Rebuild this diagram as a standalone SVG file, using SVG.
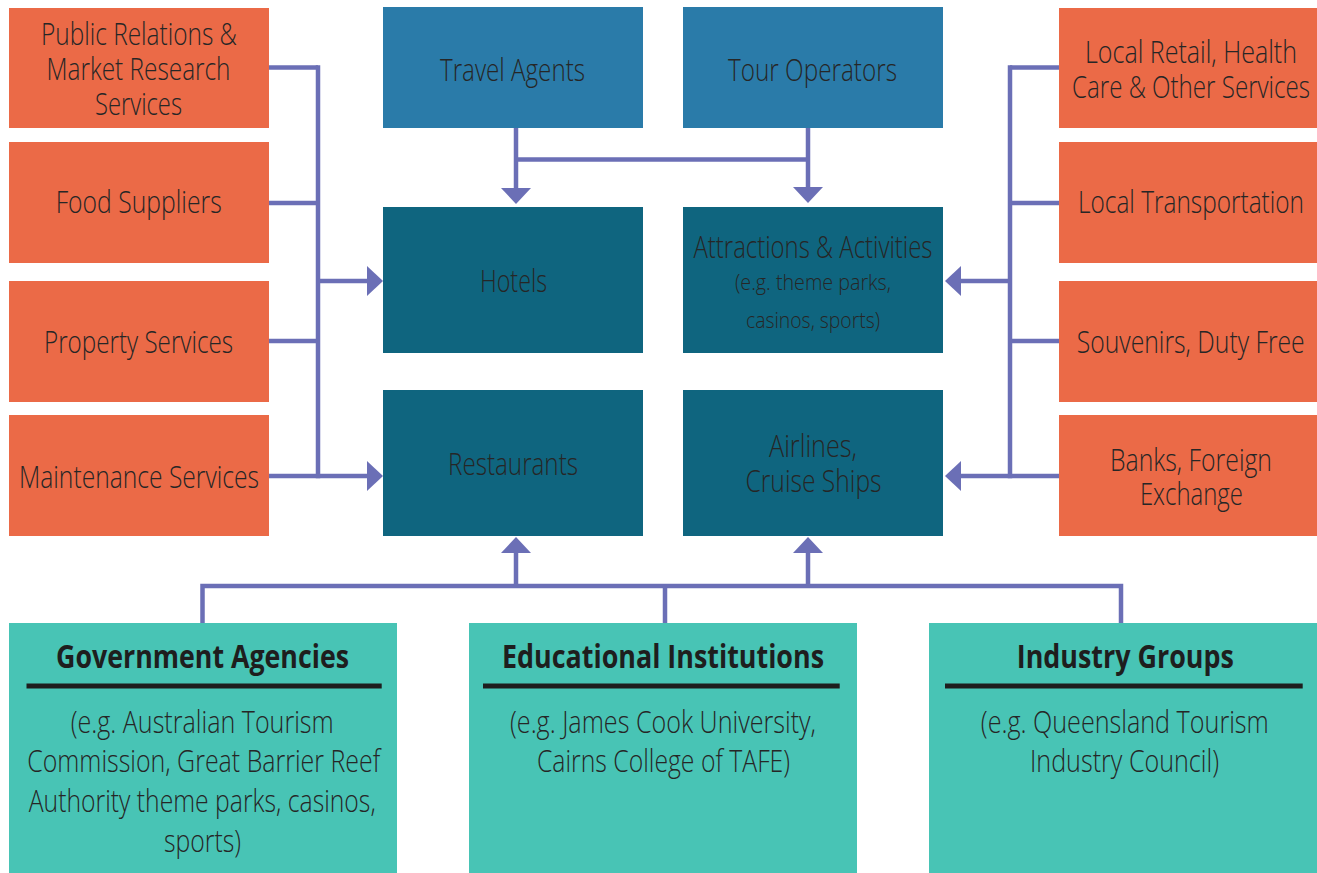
<svg xmlns="http://www.w3.org/2000/svg" width="1317" height="873" viewBox="0 0 1317 873">
<style>
  .orange{fill:#eb6a47}
  .blue{fill:#2a7ba9}
  .dark{fill:#0f657f}
  .teal{fill:#48c4b5}
  text{font-family:"Open Sans","Liberation Sans",sans-serif;font-weight:300;fill:#262626;text-anchor:middle}
  .t{font-size:32px}
  .s{font-size:22px}
  .b{font-size:32px;font-weight:700;fill:#1e1e1e}
  .conn{fill:none;stroke:#6b6fb6;stroke-width:4.5}
  .ul{stroke:#1e1e1e;stroke-width:5}
</style>
<defs>
  <marker id="arr" viewBox="0 0 16 30" refX="0" refY="15" markerWidth="16" markerHeight="30" markerUnits="userSpaceOnUse" orient="auto">
    <path d="M0,0 L16,15 L0,30 z" fill="#6b6fb6"/>
  </marker>
</defs>
<rect width="1317" height="873" fill="#ffffff"/>

<g id="connectors">
  <path class="conn" d="M269,67.5 H318"/>
  <path class="conn" d="M269,203 H318"/>
  <path class="conn" d="M269,341 H318"/>
  <path class="conn" d="M269,476 H318"/>
  <path class="conn" d="M318,65.25 V478.25"/>
  <path class="conn" d="M318,281 H367" marker-end="url(#arr)"/>
  <path class="conn" d="M318,476 H367" marker-end="url(#arr)"/>

  <path class="conn" d="M516,128 V188" marker-end="url(#arr)"/>
  <path class="conn" d="M808,128 V187" marker-end="url(#arr)"/>
  <path class="conn" d="M516,159.5 H808"/>

  <path class="conn" d="M1059,67.5 H1010"/>
  <path class="conn" d="M1059,203 H1010"/>
  <path class="conn" d="M1059,341 H1010"/>
  <path class="conn" d="M1059,476 H1010"/>
  <path class="conn" d="M1010,65.25 V478.25"/>
  <path class="conn" d="M1010,281 H961" marker-end="url(#arr)"/>
  <path class="conn" d="M1010,476 H961" marker-end="url(#arr)"/>

  <path class="conn" d="M202.5,623 V586 H1121 V623"/>
  <path class="conn" d="M665,586 V623"/>
  <path class="conn" d="M516,586 V553" marker-end="url(#arr)"/>
  <path class="conn" d="M808,586 V553" marker-end="url(#arr)"/>
</g>

<g id="public-relations">
  <rect class="orange" x="9" y="8" width="260" height="120"/>
  <text class="t" x="139" y="45" textLength="196" lengthAdjust="spacingAndGlyphs">Public Relations &amp;</text>
  <text class="t" x="138.5" y="80" textLength="184" lengthAdjust="spacingAndGlyphs">Market Research</text>
  <text class="t" x="138.5" y="115" textLength="87" lengthAdjust="spacingAndGlyphs">Services</text>
</g>
<g id="food-suppliers">
  <rect class="orange" x="9" y="142" width="260" height="121"/>
  <text class="t" x="138.7" y="213" textLength="166" lengthAdjust="spacingAndGlyphs">Food Suppliers</text>
</g>
<g id="property-services">
  <rect class="orange" x="9" y="281" width="260" height="121"/>
  <text class="t" x="138.5" y="353" textLength="189" lengthAdjust="spacingAndGlyphs">Property Services</text>
</g>
<g id="maintenance-services">
  <rect class="orange" x="9" y="415" width="260" height="121"/>
  <text class="t" x="139" y="488" textLength="240" lengthAdjust="spacingAndGlyphs">Maintenance Services</text>
</g>

<g id="travel-agents">
  <rect class="blue" x="383" y="7" width="260" height="121"/>
  <text class="t" x="512.5" y="81" textLength="145" lengthAdjust="spacingAndGlyphs">Travel Agents</text>
</g>
<g id="tour-operators">
  <rect class="blue" x="683" y="7" width="260" height="121"/>
  <text class="t" x="812.5" y="81" textLength="169" lengthAdjust="spacingAndGlyphs">Tour Operators</text>
</g>
<g id="hotels">
  <rect class="dark" x="383" y="207" width="260" height="146"/>
  <text class="t" x="513.5" y="292" textLength="67" lengthAdjust="spacingAndGlyphs">Hotels</text>
</g>
<g id="attractions">
  <rect class="dark" x="683" y="207" width="260" height="146"/>
  <text class="t" x="813" y="258" textLength="239" lengthAdjust="spacingAndGlyphs">Attractions &amp; Activities</text>
  <text class="s" x="813" y="290" textLength="156" lengthAdjust="spacingAndGlyphs">(e.g. theme parks,</text>
  <text class="s" x="813" y="328" textLength="134" lengthAdjust="spacingAndGlyphs">casinos, sports)</text>
</g>
<g id="restaurants">
  <rect class="dark" x="383" y="390" width="260" height="146"/>
  <text class="t" x="513" y="475" textLength="130" lengthAdjust="spacingAndGlyphs">Restaurants</text>
</g>
<g id="airlines">
  <rect class="dark" x="683" y="390" width="260" height="146"/>
  <text class="t" x="813" y="457" textLength="88" lengthAdjust="spacingAndGlyphs">Airlines,</text>
  <text class="t" x="813.5" y="492" textLength="136" lengthAdjust="spacingAndGlyphs">Cruise Ships</text>
</g>

<g id="local-retail">
  <rect class="orange" x="1059" y="8" width="258" height="120"/>
  <text class="t" x="1191" y="63" textLength="212" lengthAdjust="spacingAndGlyphs">Local Retail, Health</text>
  <text class="t" x="1191" y="98" textLength="238" lengthAdjust="spacingAndGlyphs">Care &amp; Other Services</text>
</g>
<g id="local-transportation">
  <rect class="orange" x="1059" y="142" width="258" height="121"/>
  <text class="t" x="1191" y="213" textLength="226" lengthAdjust="spacingAndGlyphs">Local Transportation</text>
</g>
<g id="souvenirs">
  <rect class="orange" x="1059" y="281" width="258" height="121"/>
  <text class="t" x="1190.7" y="353" textLength="228" lengthAdjust="spacingAndGlyphs">Souvenirs, Duty Free</text>
</g>
<g id="banks">
  <rect class="orange" x="1059" y="415" width="258" height="121"/>
  <text class="t" x="1191" y="471" textLength="162" lengthAdjust="spacingAndGlyphs">Banks, Foreign</text>
  <text class="t" x="1191.4" y="505" textLength="103" lengthAdjust="spacingAndGlyphs">Exchange</text>
</g>

<g id="government-agencies">
  <rect class="teal" x="9" y="623" width="388" height="250"/>
  <text class="b" x="202.5" y="668" textLength="293" lengthAdjust="spacingAndGlyphs">Government Agencies</text>
  <line class="ul" x1="26.5" y1="686" x2="381.7" y2="686"/>
  <text class="t" x="202.2" y="733" textLength="263" lengthAdjust="spacingAndGlyphs">(e.g. Australian Tourism</text>
  <text class="t" x="203.7" y="772" textLength="353" lengthAdjust="spacingAndGlyphs">Commission, Great Barrier Reef</text>
  <text class="t" x="202.2" y="812" textLength="347" lengthAdjust="spacingAndGlyphs">Authority theme parks, casinos,</text>
  <text class="t" x="202.5" y="852" textLength="77" lengthAdjust="spacingAndGlyphs">sports)</text>
</g>
<g id="educational-institutions">
  <rect class="teal" x="469" y="623" width="388" height="250"/>
  <text class="b" x="663" y="668" textLength="322" lengthAdjust="spacingAndGlyphs">Educational Institutions</text>
  <line class="ul" x1="483" y1="686" x2="839.7" y2="686"/>
  <text class="t" x="663" y="733" textLength="306" lengthAdjust="spacingAndGlyphs">(e.g. James Cook University,</text>
  <text class="t" x="663.5" y="772" textLength="253" lengthAdjust="spacingAndGlyphs">Cairns College of TAFE)</text>
</g>
<g id="industry-groups">
  <rect class="teal" x="929" y="623" width="388" height="250"/>
  <text class="b" x="1125.3" y="668" textLength="217" lengthAdjust="spacingAndGlyphs">Industry Groups</text>
  <line class="ul" x1="945" y1="686" x2="1302.7" y2="686"/>
  <text class="t" x="1124.8" y="733" textLength="288" lengthAdjust="spacingAndGlyphs">(e.g. Queensland Tourism</text>
  <text class="t" x="1124.5" y="772" textLength="189" lengthAdjust="spacingAndGlyphs">Industry Council)</text>
</g>
</svg>
